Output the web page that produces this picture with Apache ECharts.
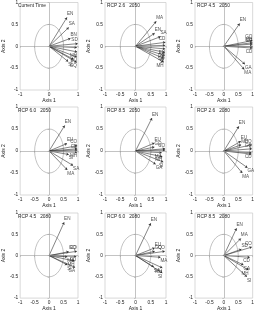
<!DOCTYPE html>
<html><head><meta charset="utf-8">
<script src="https://cdn.jsdelivr.net/npm/echarts@6/dist/echarts.min.js"></script>
<style>html,body{margin:0;padding:0;background:#fff}#c{width:257px;height:312px}</style>
</head><body><div id="c"></div>
<script>
const panelTitles = ['Current Time','RCP 2.6   2050','RCP 4.5   2050','RCP 6.0   2050','RCP 8.5   2050','RCP 2.6   2080','RCP 4.5   2080','RCP 6.0   2080','RCP 8.5   2080'];
const tickValues = [-1, -0.5, 0, 0.5, 1];
const xTickLabelsFull = ['-1', '-0.5', '0', '0.5', '1'];
const xTickLabelsSparse = ['-1', '', '0', '', '1'];
const yTickLabels = ['-1', '-0.5', '0', '0.5', '1'];
const circleRadius = 0.5;

const p1Names = ['EN','SA','BN','SD','','MH','EU','GQ','SI',''];
const p1X = [0.62,0.68,0.74,0.99,0.96,0.97,0.96,0.96,0.66,0.85];
const p1Y = [0.66,0.43,0.18,0.06,-0.03,-0.13,-0.25,-0.37,-0.35,-0.30];

const p2Names = ['MA','EN','SA','CD','','EU','GQ','SO','SI','MH'];
const p2X = [0.68,0.63,0.82,0.98,0.97,0.97,0.96,0.95,0.93,0.92];
const p2Y = [0.57,0.30,0.22,0.09,0.02,-0.06,-0.14,-0.21,-0.28,-0.36];

const p3Names = ['EN','GQ','MH','EU','','CD','GA','MA'];
const p3X = [0.55,0.99,0.99,0.99,0.99,0.99,0.73,0.71];
const p3Y = [0.52,0.13,0.08,0.05,0.00,-0.04,-0.41,-0.53];

const p4Names = ['EN','EU','CO','','CD','MH','SI','SA','MA'];
const p4X = [0.54,0.62,0.97,0.97,0.98,0.97,0.68,0.83,0.63];
const p4Y = [0.58,0.17,0.12,0.05,0.02,-0.03,-0.08,-0.33,-0.43];

const p5Names = ['EN','EU','GQ','CO','','MA','MH','SI','GA'];
const p5X = [0.54,0.62,0.62,0.97,0.97,0.86,0.88,0.91,0.66];
const p5Y = [0.75,0.18,0.09,0.05,0.02,-0.04,-0.13,-0.25,-0.30];

const p6Names = ['EN','EU','MH','CO','GQ','CD','','GA','MA'];
const p6X = [0.52,0.59,0.60,0.96,0.97,0.96,0.96,0.82,0.64];
const p6Y = [0.56,0.22,0.14,0.14,0.05,-0.04,-0.07,-0.38,-0.50];

const p7Names = ['EN','GQ','CO','MA','EU','MH','SI','GA'];
const p7X = [0.52,0.68,0.96,0.63,0.94,0.88,0.63,0.90];
const p7Y = [0.78,0.09,0.10,-0.03,-0.02,-0.13,-0.22,-0.28];

const p8Names = ['EN','EU','GQ','CO','MA','SA','MH','SI'];
const p8X = [0.50,0.63,0.63,0.96,0.82,0.60,0.88,0.88];
const p8Y = [0.76,0.18,0.10,0.10,-0.04,-0.27,-0.29,-0.41];

const p9Names = ['EN','MA','CO','SD','CD','GA','MH','SI'];
const p9X = [0.44,0.59,0.97,0.61,0.90,0.68,0.86,0.80];
const p9Y = [0.64,0.40,0.20,0.15,-0.04,-0.22,-0.34,-0.50];

const panels = [
  [p1Names,p1X,p1Y],[p2Names,p2X,p2Y],[p3Names,p3X,p3Y],
  [p4Names,p4X,p4Y],[p5Names,p5X,p5Y],[p6Names,p6X,p6Y],
  [p7Names,p7X,p7Y],[p8Names,p8X,p8Y],[p9Names,p9X,p9Y]
];

const colLeft = [16, 105, 195];
const colWidth = [62, 61, 60];
const rowTop = [2, 107, 213];
const rowHeight = 88;
const FONT = 'Liberation Sans, Arial, sans-serif';

function tickLabel(labels){
  return function(v){
    for (let k=0;k<tickValues.length;k++){ if (Math.abs(tickValues[k]-v)<1e-9) return labels[k]; }
    return '';
  };
}

const grid=[], xAxis=[], yAxis=[], title=[], series=[];
panels.forEach((p, i) => {
  const r = Math.floor(i/3), c = i%3;
  grid.push({left: colLeft[c], top: rowTop[r], width: colWidth[c], height: rowHeight,
    show: true, borderColor: '#c8c8c8', borderWidth: 0.7, containLabel: false});
  title.push({text: panelTitles[i], left: colLeft[c]+2, top: rowTop[r]+1.5, padding: 0,
    textStyle: {fontSize: 4.8, fontWeight: 'normal', color: '#222', fontFamily: FONT}});
  const axisCommon = {
    type: 'value', min: -1, max: 1, interval: 0.5, gridIndex: i,
    nameLocation: 'middle',
    nameTextStyle: {fontSize: 5, color: '#222', fontFamily: FONT},
    axisLine: {show: false},
    axisTick: {show: true, length: 1.5, lineStyle: {color: '#aaa', width: 0.6}},
    splitLine: {show: false}
  };
  xAxis.push(Object.assign({}, axisCommon, {
    name: 'Axis 1', nameGap: 6,
    axisLabel: {fontSize: 4.8, color: '#222', margin: 2, fontFamily: FONT,
      formatter: tickLabel(i === 0 ? xTickLabelsSparse : xTickLabelsFull)}
  }));
  yAxis.push(Object.assign({}, axisCommon, {
    name: 'Axis 2', nameGap: 11,
    axisLabel: {fontSize: 4.8, color: '#222', margin: 2, fontFamily: FONT,
      formatter: tickLabel(yTickLabels)}
  }));
  const names = p[0], xs = p[1], ys = p[2];
  series.push({
    type: 'custom', xAxisIndex: i, yAxisIndex: i, silent: true,
    data: [[0, 0]],
    renderItem: function(params, api){
      const ctr = api.coord([api.value(0), api.value(1)]);
      const s = api.size([circleRadius, circleRadius]);
      const rx = s[0], ry = s[1];
      const d = 'M ' + (ctr[0]-rx) + ' ' + ctr[1] +
        ' A ' + rx + ' ' + ry + ' 0 1 0 ' + (ctr[0]+rx) + ' ' + ctr[1] +
        ' A ' + rx + ' ' + ry + ' 0 1 0 ' + (ctr[0]-rx) + ' ' + ctr[1] + ' Z';
      return {type: 'path', shape: {pathData: d}, style: {fill: 'none', stroke: '#9a9a9a', lineWidth: 0.6}};
    }
  });
  series.push({
    type: 'lines', coordinateSystem: 'cartesian2d', xAxisIndex: i, yAxisIndex: i,
    symbol: ['none', 'arrow'], symbolSize: 2.5, silent: true,
    lineStyle: {color: '#333', width: 0.6, opacity: 1},
    data: xs.map((x, k) => ({coords: [[0, 0], [x, ys[k]]]}))
  });
  series.push({
    type: 'scatter', xAxisIndex: i, yAxisIndex: i, symbolSize: 0, silent: true,
    data: xs.map((x, k) => ({
      value: [x, ys[k], names[k]],
      label: {show: names[k] !== '', position: ys[k] >= 0 ? 'top' : 'bottom',
        align: x > 0.85 ? 'right' : 'left', distance: 1}
    })),
    label: {fontSize: 4.6, color: '#222', fontFamily: FONT, formatter: q => q.value[2]},
    markLine: {silent: true, symbol: 'none', label: {show: false}, animation: false,
      lineStyle: {color: '#9a9a9a', width: 0.6, type: 'solid'},
      data: [{xAxis: 0}, {yAxis: 0}]}
  });
});

const chart = echarts.init(document.getElementById('c'), null, {renderer: 'canvas'});
chart.setOption({animation: false, backgroundColor: '#fff', title, grid, xAxis, yAxis, series});
</script>
</body></html>
